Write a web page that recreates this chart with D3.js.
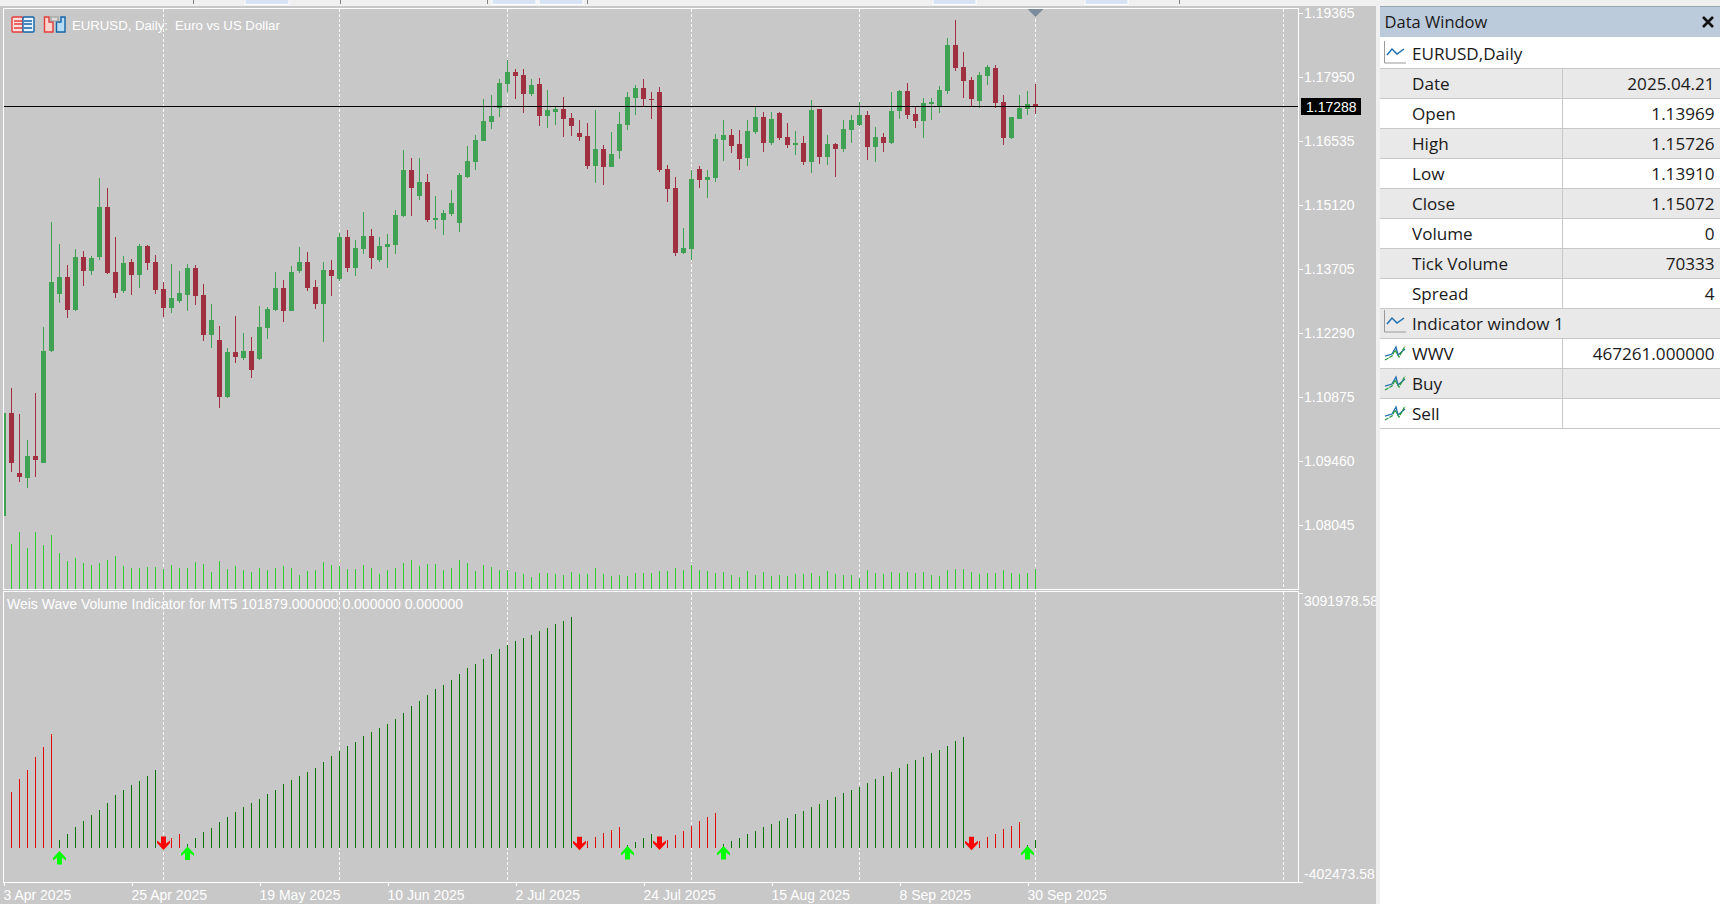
<!DOCTYPE html>
<html>
<head>
<meta charset="utf-8">
<script src="https://cdnjs.cloudflare.com/ajax/libs/d3/7.8.5/d3.min.js"></script>
<style>
html, body { margin: 0; padding: 0; background: #fff; overflow: hidden; }
svg { display: block; }
.mt { font-family: "Liberation Sans", Arial, sans-serif; font-size: 14px; fill: #fff; }
.mt.head { font-size: 13.2px; }
.dw { font-family: "Open Sans", "Noto Sans", sans-serif; font-size: 17.1px; fill: #1a1a1a; }
.dw.head { font-size: 16.5px; }
</style>
</head>
<body>
<script>
var opens = [1.08248,1.10525,1.09199,1.09088,1.09574,1.09420,1.11895,1.13155,1.13530,1.12801,1.13972,1.13663,1.13969,1.15077,1.13641,1.13221,1.13862,1.13574,1.14215,1.13862,
  1.13265,1.12845,1.13000,1.13132,1.13729,1.13132,1.12248,1.12138,1.10878,1.11873,1.11740,1.11895,1.11718,1.12403,1.12801,1.13287,1.12779,1.13663,1.13862,1.13309,
  1.12934,1.13685,1.13486,1.14414,1.13729,1.14149,1.14436,1.13906,1.14193,1.14237,1.14878,1.15895,1.15320,1.15630,1.14790,1.14790,1.14923,1.14724,1.15740,1.16072,
  1.16536,1.16956,1.17265,1.17796,1.18061,1.17994,1.17575,1.17796,1.17088,1.17177,1.17243,1.17044,1.16713,1.16646,1.15983,1.16359,1.15961,1.16315,1.16889,1.17486,
  1.17707,1.17464,1.17619,1.15917,1.15497,1.14061,1.14149,1.15917,1.15674,1.15718,1.16558,1.16668,1.16470,1.16160,1.16735,1.17066,1.16492,1.17155,1.16624,1.16447,
  1.16492,1.16072,1.17243,1.16182,1.16470,1.16359,1.16779,1.16889,1.17110,1.16403,1.16624,1.16492,1.17199,1.17641,1.17133,1.16978,1.17354,1.17309,1.17641,1.18657,
  1.18171,1.17884,1.17420,1.17972,1.18149,1.17398,1.16602,1.17022,1.17243,1.17354];
var highs = [1.10525,1.11077,1.10503,1.09928,1.10967,1.12425,1.14746,1.14260,1.13795,1.14149,1.14105,1.13994,1.15726,1.15497,1.14414,1.13994,1.13928,1.14260,1.14237,1.14016,
  1.13420,1.13818,1.13663,1.13818,1.13795,1.13376,1.12934,1.12447,1.11961,1.12668,1.12293,1.12204,1.12890,1.12868,1.13641,1.13464,1.13773,1.14193,1.14083,1.13464,
  1.13862,1.13906,1.14503,1.14569,1.14348,1.14967,1.14591,1.14414,1.14481,1.15011,1.16337,1.16160,1.16160,1.15807,1.15320,1.15011,1.15453,1.15829,1.16425,1.16668,
  1.17464,1.17552,1.17906,1.18326,1.18127,1.18127,1.17906,1.17928,1.17663,1.17309,1.17508,1.17155,1.17000,1.16934,1.17221,1.16447,1.16735,1.17177,1.17619,1.17773,
  1.17906,1.17619,1.17729,1.16005,1.15740,1.14613,1.15895,1.15983,1.15895,1.16690,1.17000,1.16801,1.16779,1.17000,1.17309,1.17177,1.17177,1.17177,1.16934,1.16757,
  1.16646,1.17442,1.17243,1.16668,1.16492,1.17000,1.17110,1.17398,1.17199,1.16845,1.16713,1.17619,1.17663,1.17818,1.17309,1.17486,1.17486,1.17751,1.18812,1.19210,
  1.18503,1.17950,1.18061,1.18216,1.18216,1.17552,1.17066,1.17552,1.17641,1.17796];
var lows = [1.08248,1.09221,1.09000,1.08867,1.09110,1.09420,1.11873,1.12956,1.12624,1.12779,1.13331,1.13574,1.13910,1.13597,1.13066,1.13177,1.13132,1.13287,1.13685,1.13155,
  1.12646,1.12735,1.12956,1.12779,1.12912,1.12116,1.11961,1.10635,1.10856,1.11630,1.11696,1.11298,1.11696,1.12160,1.12779,1.12536,1.12779,1.13619,1.13221,1.12823,
  1.12094,1.13110,1.13442,1.13641,1.13552,1.14038,1.13707,1.13862,1.13729,1.14038,1.14856,1.14878,1.15232,1.14746,1.14591,1.14458,1.14878,1.14525,1.15718,1.15895,
  1.16536,1.16801,1.17066,1.17619,1.17464,1.17155,1.17530,1.16867,1.16823,1.16889,1.16624,1.16646,1.16536,1.15917,1.15608,1.15563,1.15961,1.16138,1.16779,1.17110,
  1.17309,1.17022,1.15851,1.15188,1.13994,1.14038,1.13906,1.15497,1.15276,1.15630,1.16094,1.16271,1.15895,1.15983,1.16690,1.16293,1.16447,1.16558,1.16381,1.16226,
  1.16005,1.15829,1.16028,1.16005,1.15740,1.16293,1.16492,1.16867,1.16116,1.16072,1.16293,1.16470,1.17022,1.17022,1.16823,1.16602,1.17000,1.17155,1.17575,1.18083,
  1.17486,1.17287,1.17265,1.17773,1.17265,1.16447,1.16580,1.17022,1.17110,1.17133];
var closes = [1.10525,1.09420,1.09110,1.09574,1.09486,1.11895,1.13420,1.13530,1.12801,1.13972,1.13663,1.13950,1.15072,1.13619,1.13177,1.13840,1.13574,1.14215,1.13840,1.13243,
  1.12845,1.13066,1.13177,1.13729,1.13110,1.12248,1.12580,1.10878,1.11873,1.11762,1.11895,1.11475,1.12425,1.12823,1.13287,1.12779,1.13641,1.13862,1.13287,1.12934,
  1.13685,1.13552,1.14414,1.13729,1.14171,1.14436,1.13950,1.14215,1.14260,1.14900,1.15895,1.15497,1.15630,1.14790,1.14834,1.14945,1.15166,1.15785,1.16094,1.16558,
  1.16978,1.17088,1.17818,1.18061,1.17972,1.17575,1.17773,1.17088,1.17221,1.17243,1.17022,1.16867,1.16624,1.15983,1.16359,1.15961,1.16248,1.16912,1.17508,1.17707,
  1.17464,1.17442,1.15895,1.15475,1.14061,1.14171,1.15696,1.15674,1.15740,1.16580,1.16668,1.16425,1.16138,1.16757,1.17066,1.16492,1.17022,1.16602,1.16447,1.16492,
  1.16072,1.17221,1.16182,1.16470,1.16359,1.16801,1.17000,1.17110,1.16403,1.16624,1.16492,1.17199,1.17641,1.17110,1.16978,1.17376,1.17398,1.17663,1.18657,1.18149,
  1.17862,1.17464,1.17994,1.18171,1.17376,1.16602,1.17066,1.17265,1.17354,1.17288];
var tickVolume = [130000,121725,154185,110905,154185,119020,146070,97380,75740,83855,70330,64920,70333,78445,89265,62215,56805,56805,59510,59510,
  54100,64920,56805,56805,73035,67625,45985,75740,54100,62215,51395,45985,56805,51395,56805,62215,56805,37870,48690,51395,
  73035,64920,62215,54100,54100,64920,56805,40575,51395,56805,70330,78445,62215,67625,67625,51395,56805,78445,70330,48690,
  64920,59510,51395,51395,45985,40575,32460,43280,43280,40575,37870,45985,40575,40575,56805,40575,35165,37870,35165,43280,
  43280,43280,48690,48690,56805,51395,64920,51395,48690,43280,45985,37870,32460,48690,37870,45985,35165,37870,35165,40575,
  40575,43280,35165,48690,40575,37870,37870,29755,51395,43280,40575,45985,43280,45985,43280,45985,37870,35165,51395,54100,
  54100,45985,40575,43280,43280,51395,43280,40575,43280,54100];
var wwv = [522000,678870,835540,944000,1100660,1221170,1377830,100430,172730,257090,329390,401700,467261,546310,642720,702980,763230,811430,871690,944000,
  80340,124530,172730,52220,124530,196830,245040,317340,377600,437850,498110,546310,594520,654770,702980,775280,823490,871690,919890,968100,
  1040400,1112710,1172960,1233220,1281420,1353730,1401930,1450140,1498340,1558600,1630900,1715260,1775510,1847820,1920130,1968330,2028590,2100890,2173200,2233450,
  2293710,2353960,2414220,2462420,2510630,2546780,2582930,2631140,2667290,2715490,2751650,2799850,48200,88370,136580,184780,220940,257090,40170,76320,
  124530,172730,48200,100430,160680,208880,269140,329390,377600,425800,52220,88370,124530,172730,208880,257090,293240,329390,365550,413750,
  449900,498110,534260,582470,618620,666820,702980,739130,787330,835540,871690,919890,968100,1016300,1064510,1100660,1148860,1185020,1233220,1293470,
  1341680,48200,88370,136580,172730,232990,269140,317340,40170,101879];
var downWaves = [[0,6],[20,22],[72,77],[82,89],[121,127]];
var buyArrows = [{bar:7,value:-116900},{bar:23,value:-65000},{bar:78,value:-56600},{bar:90,value:-56600},{bar:128,value:-56600}];
var sellArrows = [{bar:20,value:63900},{bar:72,value:61000},{bar:82,value:63900},{bar:121,value:61000}];
var priceTicks = [1.19365,1.1795,1.16535,1.1512,1.13705,1.1229,1.10875,1.0946,1.08045];
var lastPrice = 1.17288;
var wwvTicks = [3091978.58,-402473.58];
var dateBars = [0,16,32,48,64,80,96,112,128];
var dateLabels = ['3 Apr 2025','25 Apr 2025','19 May 2025','10 Jun 2025','2 Jul 2025','24 Jul 2025','15 Aug 2025','8 Sep 2025','30 Sep 2025'];
var separatorBars = [20,42,63,86,107,129,160];
var dwNames = ['Date','Open','High','Low','Close','Volume','Tick Volume','Spread','Indicator window 1','WWV','Buy','Sell'];
var dwValues = ['2025.04.21','1.13969','1.15726','1.13910','1.15072','0','70333','4','','467261.000000','',''];

var W = 1720, H = 904;
var bg = '#c8c8c8', upCol = '#3fa153', downCol = '#a0303f';

var svg = d3.select('body').append('svg').attr('width', W).attr('height', H);

svg.append('rect').attr('width', W).attr('height', H).attr('fill', '#fff');
svg.append('rect').attr('width', 1376).attr('height', H).attr('y', 6).attr('fill', bg);
svg.append('rect').attr('width', W).attr('height', 6).attr('fill', '#f0f0f0');
svg.append('rect').attr('x', 1376).attr('width', 4).attr('height', H).attr('fill', '#f0f0f0');

// tab strip along the top
[[245,289],[492,536],[539,583],[933,976],[1085,1128]].forEach(function(t) {
  svg.append('rect').attr('x', t[0]).attr('y', -1).attr('width', t[1] - t[0]).attr('height', 5.5)
    .attr('fill', '#d6e4f5').attr('stroke', '#fff');
});
[193,340,487,587,1179].forEach(function(x) {
  svg.append('rect').attr('x', x).attr('width', 1).attr('height', 4).attr('fill', '#808080');
});

var x = d3.scaleLinear().domain([0, 160]).range([3.5, 1283.5]);
var yPrice = d3.scaleLinear().domain([1.08045, 1.19365]).range([525.2, 13]);
var yVol = d3.scaleLinear().domain([0, 154185]).range([589, 532]);
var yWwv = d3.scaleLinear().domain([-402473.58, 3091978.58]).range([881.5, 592.5]);

var defs = svg.append('defs');
defs.append('clipPath').attr('id', 'clipMain').append('rect').attr('x', 4).attr('y', 9).attr('width', 1294).attr('height', 580);
defs.append('clipPath').attr('id', 'clipInd').append('rect').attr('x', 4).attr('y', 592).attr('width', 1294).attr('height', 290);

var main = svg.append('g').attr('clip-path', 'url(#clipMain)').attr('shape-rendering', 'crispEdges');
var ind = svg.append('g').attr('clip-path', 'url(#clipInd)').attr('shape-rendering', 'crispEdges');

function separators(g, y1, y2) {
  g.selectAll('line.sep').data(separatorBars).enter().append('line')
    .attr('class', 'sep')
    .attr('x1', function(d) { return x(d); })
    .attr('x2', function(d) { return x(d); })
    .attr('y1', y1).attr('y2', y2)
    .attr('stroke', '#fff')
    .attr('stroke-dasharray', '3,2');
}
separators(main, 9, 589);
separators(ind, 592, 882);

// candles
var candles = main.selectAll('g.candle').data(opens).enter().append('g').attr('class', 'candle');
function candleCol(d, i) { return closes[i] >= d ? upCol : downCol; }
candles.append('line')
  .attr('x1', function(d, i) { return x(i); })
  .attr('x2', function(d, i) { return x(i); })
  .attr('y1', function(d, i) { return Math.round(yPrice(highs[i])); })
  .attr('y2', function(d, i) { return Math.round(yPrice(lows[i])); })
  .attr('stroke', candleCol);
candles.append('rect')
  .attr('x', function(d, i) { return x(i) - 2.5; })
  .attr('width', 5)
  .attr('y', function(d, i) { return Math.round(yPrice(Math.max(d, closes[i]))); })
  .attr('height', function(d, i) {
    return Math.max(1, Math.round(yPrice(Math.min(d, closes[i]))) - Math.round(yPrice(Math.max(d, closes[i]))));
  })
  .attr('fill', candleCol);

// tick volume
main.selectAll('line.vol').data(tickVolume).enter().append('line')
  .attr('class', 'vol')
  .attr('x1', function(d, i) { return x(i); })
  .attr('x2', function(d, i) { return x(i); })
  .attr('y1', yVol(0))
  .attr('y2', function(d) { return Math.round(yVol(d)); })
  .attr('stroke', '#32cd32');

// last price line
main.append('line')
  .attr('x1', 4).attr('x2', 1298)
  .attr('y1', Math.floor(yPrice(lastPrice)) + 0.5).attr('y2', Math.floor(yPrice(lastPrice)) + 0.5)
  .attr('stroke', '#000');

// chart shift marker
svg.append('path')
  .attr('d', d3.line()([[x(129) - 8, 9], [x(129) + 8, 9], [x(129), 17]]))
  .attr('fill', '#7b8b9c');

// wwv histogram
function isDown(i) {
  return downWaves.some(function(w) { return i >= w[0] && i <= w[1]; });
}
ind.selectAll('line.wwv').data(wwv).enter().append('line')
  .attr('class', 'wwv')
  .attr('x1', function(d, i) { return x(i); })
  .attr('x2', function(d, i) { return x(i); })
  .attr('y1', 848)
  .attr('y2', function(d) { return Math.round(yWwv(d)); })
  .attr('stroke', function(d, i) { return isDown(i) ? '#e00c0c' : '#0a740a'; });

var upArrow = 'M0,-7L6.5,0L6.5,2.5L2.5,-0.5L2.5,6.5L-2.5,6.5L-2.5,-0.5L-6.5,2.5L-6.5,0Z';
var downArrow = 'M0,7L6.5,0L6.5,-2.5L2.5,0.5L2.5,-6.5L-2.5,-6.5L-2.5,0.5L-6.5,-2.5L-6.5,0Z';
var arrows = svg.append('g').attr('clip-path', 'url(#clipInd)');
arrows.selectAll('path.buy').data(buyArrows).enter().append('path')
  .attr('class', 'buy')
  .attr('d', upArrow)
  .attr('transform', function(d) { return 'translate(' + x(d.bar) + ',' + yWwv(d.value) + ')'; })
  .attr('fill', '#00ff00');
arrows.selectAll('path.sell').data(sellArrows).enter().append('path')
  .attr('class', 'sell')
  .attr('d', downArrow)
  .attr('transform', function(d) { return 'translate(' + x(d.bar) + ',' + yWwv(d.value) + ')'; })
  .attr('fill', '#ff0000');

// frames
[[3.5, 8.5, 1295, 581], [3.5, 591.5, 1295, 291]].forEach(function(f) {
  svg.append('rect').attr('x', f[0]).attr('y', f[1]).attr('width', f[2]).attr('height', f[3])
    .attr('fill', 'none').attr('stroke', '#fff').attr('shape-rendering', 'crispEdges');
});

// axes
function styleAxis(g) {
  g.select('.domain').remove();
  g.selectAll('.tick line').attr('stroke', '#fff').attr('shape-rendering', 'crispEdges');
  g.selectAll('.tick text').attr('class', 'mt').attr('fill', null).style('font-family', null).style('font-size', null);
}
var priceAxis = svg.append('g').attr('transform', 'translate(1298,0)')
  .call(d3.axisRight(yPrice).tickValues(priceTicks).tickSize(5).tickPadding(1).tickFormat(d3.format('.5f')));
priceAxis.attr('font-family', null).attr('font-size', null).call(styleAxis);

svg.append('rect').attr('x', 1301).attr('y', 98).attr('width', 60).attr('height', 17).attr('fill', '#000');
svg.append('text').attr('class', 'mt').attr('x', 1306).attr('y', yPrice(lastPrice)).attr('dy', '0.35em')
  .text(d3.format('.5f')(lastPrice));

var wwvAxis = svg.append('g').attr('transform', 'translate(1298,0)')
  .call(d3.axisRight(yWwv).tickValues(wwvTicks).tickSize(5).tickPadding(1).tickFormat(function(d) { return d.toFixed(2); }));
wwvAxis.attr('font-family', null).attr('font-size', null).call(styleAxis);
wwvAxis.selectAll('.tick text').attr('dy', function(d) { return d > 0 ? '0.9em' : '-0.2em'; });

var dateAxis = svg.append('g').attr('transform', 'translate(0,882)')
  .call(d3.axisBottom(x).tickValues(dateBars).tickSize(4).tickPadding(2)
    .tickFormat(function(d, i) { return dateLabels[i]; }));
dateAxis.attr('font-family', null).attr('font-size', null).call(styleAxis);
dateAxis.selectAll('.tick text').attr('text-anchor', 'start').attr('x', -0.5).attr('y', 5).attr('dy', '0.9em');

// re-cover the gutter so the clipped axis label stops at the panel edge
svg.append('rect').attr('x', 1376).attr('y', 0).attr('width', 344).attr('height', H).attr('fill', '#fff');
svg.append('rect').attr('x', 1376).attr('y', 0).attr('width', 4).attr('height', H).attr('fill', '#f0f0f0');
svg.append('rect').attr('x', 1380).attr('y', 0).attr('width', 340).attr('height', 6).attr('fill', '#f0f0f0');

// chart titles
svg.append('text').attr('class', 'mt head').attr('x', 72).attr('y', 25).attr('dy', '0.35em').text('EURUSD, Daily:');
svg.append('text').attr('class', 'mt head').attr('x', 175).attr('y', 25).attr('dy', '0.35em').text('Euro vs US Dollar');
svg.append('text').attr('class', 'mt').attr('x', 7).attr('y', 604).attr('dy', '0.35em')
  .text('Weis Wave Volume Indicator for MT5 101879.000000 0.000000 0.000000');

// little one-click trading icons
function tradeIcon(px, col, fill) {
  svg.append('rect').attr('x', px).attr('y', 17).attr('width', 11).attr('height', 15)
    .attr('fill', fill).attr('stroke', col).attr('stroke-width', 1.4).attr('rx', 1);
}
tradeIcon(12, '#e23b3b', '#fde0dc');
tradeIcon(23, '#1264a8', '#e8f2fb');
[21, 24, 28].forEach(function(y) {
  svg.append('line').attr('x1', 14).attr('x2', 22).attr('y1', y).attr('y2', y).attr('stroke', '#e23b3b').attr('stroke-width', 1.5);
  svg.append('line').attr('x1', 24).attr('x2', 32).attr('y1', y).attr('y2', y).attr('stroke', '#1264a8').attr('stroke-width', 1.5);
});
svg.append('path').attr('d', 'M44.5,17H49V22H53V32H44.5Z').attr('fill', '#fdd5cf').attr('stroke', '#e23b3b').attr('stroke-width', 1.4);
svg.append('path').attr('d', 'M65,17H61V22H56.5V32H65Z').attr('fill', '#b9dcf5').attr('stroke', '#1264a8').attr('stroke-width', 1.4);
svg.append('rect').attr('x', 51).attr('y', 17).attr('width', 7).attr('height', 4).attr('fill', '#ddd').attr('stroke', '#999');

// data window
var dw = svg.append('g');
dw.append('rect').attr('x', 1380).attr('y', 6).attr('width', 340).attr('height', 31).attr('fill', '#bccbdb');
dw.append('rect').attr('x', 1380).attr('y', 6).attr('width', 340).attr('height', 1).attr('fill', '#9aa5b0');
dw.append('text').attr('class', 'dw head').attr('x', 1384.5).attr('y', 22).attr('dy', '0.35em').text('Data Window');
dw.append('path').attr('d', 'M1703,17L1713,27M1713,17L1703,27').attr('stroke', '#111').attr('stroke-width', 2.6);

var rowY = d3.scaleLinear().domain([0, 12]).range([68, 428]);
var rows = dw.selectAll('g.row').data(dwNames).enter().append('g').attr('class', 'row');
rows.append('rect')
  .attr('x', 1380).attr('width', 340)
  .attr('y', function(d, i) { return rowY(i); })
  .attr('height', 30)
  .attr('fill', function(d, i) { return i % 2 === 0 ? '#e9e9e9' : '#fff'; });
rows.append('text').attr('class', 'dw')
  .attr('x', 1412)
  .attr('y', function(d, i) { return rowY(i) + 16; })
  .attr('dy', '0.35em')
  .text(function(d) { return d; });
rows.append('text').attr('class', 'dw')
  .attr('x', 1714.5)
  .attr('y', function(d, i) { return rowY(i) + 16; })
  .attr('dy', '0.35em')
  .attr('text-anchor', 'end')
  .text(function(d, i) { return dwValues[i]; });
dw.append('text').attr('class', 'dw').attr('x', 1412).attr('y', 54).attr('dy', '0.35em').text('EURUSD,Daily');

// row separators
d3.range(0, 13).forEach(function(k) {
  dw.append('rect').attr('x', 1380).attr('y', rowY(k)).attr('width', 340).attr('height', 1).attr('fill', '#c8c8c8');
});
// column divider stops at the header rows
dw.append('rect').attr('x', 1562).attr('y', rowY(0)).attr('width', 1).attr('height', rowY(8) - rowY(0)).attr('fill', '#c8c8c8');
dw.append('rect').attr('x', 1562).attr('y', rowY(9)).attr('width', 1).attr('height', rowY(12) - rowY(9)).attr('fill', '#c8c8c8');

// row icons
function chartIcon(iy) {
  dw.append('path').attr('d', 'M1384.5,' + (iy - 13) + 'V' + (iy + 9) + 'H1406')
    .attr('fill', 'none').attr('stroke', '#9a9a9a');
  dw.append('path').attr('d', 'M1387,' + (iy + 1) + 'L1392,' + (iy - 5) + 'L1397,' + iy + 'L1404,' + (iy - 5))
    .attr('fill', 'none').attr('stroke', '#1f6fb0').attr('stroke-width', 1.5);
}
function waveIcon(iy) {
  dw.append('path').attr('d', 'M1385,' + (iy + 3) + 'L1392,' + (iy + 1) + 'L1396,' + (iy - 6) + 'L1398,' + (iy + 2) + 'L1405,' + (iy - 4))
    .attr('fill', 'none').attr('stroke', '#1f6fb0').attr('stroke-width', 1.3);
  dw.append('path').attr('d', 'M1385,' + (iy + 7) + 'L1392,' + (iy + 3) + 'L1395,' + (iy - 3) + 'L1399,' + (iy + 4) + 'L1405,' + (iy - 7))
    .attr('fill', 'none').attr('stroke', '#2a9a3a').attr('stroke-width', 1.3).attr('stroke-dasharray', '4,1');
}
chartIcon(54);
chartIcon(rowY(8) + 15);
waveIcon(rowY(9) + 15);
waveIcon(rowY(10) + 15);
waveIcon(rowY(11) + 15);
</script>
</body>
</html>
